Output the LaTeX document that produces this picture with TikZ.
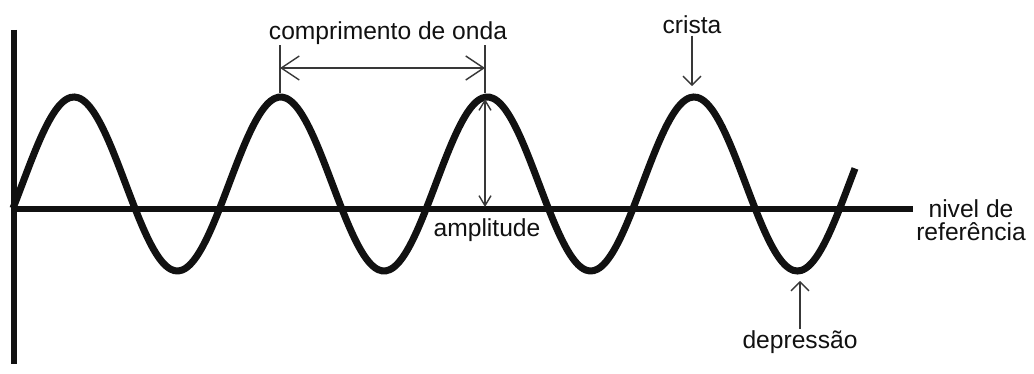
\documentclass[tikz,border=0pt]{standalone}
\usepackage{fontspec}
\setmainfont{Liberation Sans}
\usepackage{tikz}
\usetikzlibrary{arrows.meta, positioning}
\definecolor{inkcolor}{HTML}{111111}
\definecolor{notecolor}{HTML}{383838}

\begin{document}
\begin{tikzpicture}[
  x=0.025cm, y=-0.025cm,
  note/.style={font=\fontsize{17.5}{16.5}\selectfont, text=inkcolor,
               inner sep=1pt},
  wave/.style={line width=0.175cm, color=inkcolor},
  axis/.style={line width=0.125cm, color=inkcolor},
  span/.style={{Straight Barb[length=0.45cm, width=0.6cm]}-{Straight Barb[length=0.45cm, width=0.6cm]},
               line width=0.035cm, color=notecolor},
  tick/.style={line width=0.035cm, color=notecolor},
  amp/.style={{Straight Barb[length=0.25cm, width=0.3cm]}-{Straight Barb[length=0.25cm, width=0.3cm]},
              line width=0.035cm, color=notecolor},
  pointer/.style={-{Straight Barb[length=0.22cm, width=0.45cm]},
                  line width=0.035cm, color=notecolor},
]

%% frame
\fill[white] (0,0) rectangle (1034,374);
\useasboundingbox (0,0) rectangle (1034,374);

%% axes
\coordinate (axtop) at (14,30);
\coordinate (axbot) at (14,364);
\coordinate (refstart) at (14,209);
\coordinate (refend) at (913,209);
\draw[axis] (axtop) -- (axbot);
\draw[axis] (refstart) -- (refend);

%% wave
\draw[wave] plot[domain=13:855, samples=220, smooth]
  (\x, {184 - 87*sin(1.7417*(\x-22.3))});

%% labels
\node[note] (wavelen) at (388,33) {comprimento de onda};
\node[note] (crista)  at (692,25) {crista};
\node[note] (ampl)    at (487,230) {amplitude};
\node[note] (depr)    at (800,342) {depressão};
\node[note, align=center] (nivel) at (971,220) {nivel de\\referência};

%% wavelength
\coordinate (lamA) at (280,68);
\coordinate (lamB) at (485,68);
\draw[tick] ([yshift=16] lamA) -- ([yshift=-18] lamA);
\draw[tick] ([yshift=16] lamB) -- ([yshift=-18] lamB);
\draw[span] (lamA) -- (lamB);

%% amplitude
\coordinate (ampTop) at (485,99);
\coordinate (ampBot) at (485,207);
\draw[amp] (ampTop) -- (ampBot);

%% crest and trough
\coordinate (crestTip) at (692,86);
\coordinate (troughTip) at (800,281);
\draw[pointer] (crista.south) -- (crestTip);
\draw[pointer] (depr.north) -- (troughTip);

\end{tikzpicture}
\end{document}
